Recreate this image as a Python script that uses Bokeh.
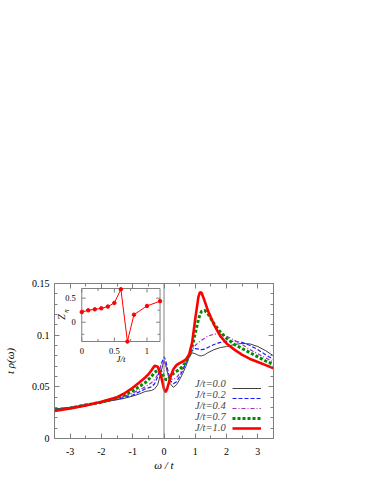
import math
from bokeh.plotting import figure
from bokeh.models import (Range1d, LinearAxis, FixedTicker, CustomJSTickFormatter,
                          Span, Legend, LegendItem)
from bokeh.core.properties import value
from bokeh.embed import file_html
from bokeh.resources import INLINE

# ---------------- data ----------------
omega = [-3.5, -3.0, -2.5, -2.0, -1.5, -1.25, -1.0, -0.8, -0.6, -0.5,
         -0.4, -0.3, -0.2, -0.1, 0.0, 0.05, 0.1, 0.2, 0.3, 0.4,
         0.5, 0.6, 0.7, 0.8, 0.9, 1.0, 1.1, 1.15, 1.2, 1.3,
         1.4, 1.6, 1.8, 2.0, 2.25, 2.5, 2.75, 3.0, 3.25, 3.5]

rho_j00 = [0.0285, 0.030, 0.0325, 0.035, 0.0375, 0.039, 0.041, 0.043, 0.0455, 0.046,
           0.0465, 0.048, 0.052, 0.064, 0.0755, 0.072, 0.065, 0.053, 0.0495, 0.052,
           0.057, 0.063, 0.070, 0.078, 0.083, 0.082, 0.0805, 0.080, 0.080, 0.081,
           0.083, 0.086, 0.088, 0.089, 0.091, 0.092, 0.0915, 0.089, 0.085, 0.080]

rho_j02 = [0.0285, 0.030, 0.033, 0.035, 0.038, 0.040, 0.042, 0.045, 0.048, 0.049,
           0.050, 0.053, 0.060, 0.071, 0.079, 0.076, 0.069, 0.056, 0.053, 0.055,
           0.060, 0.066, 0.073, 0.080, 0.085, 0.087, 0.0865, 0.086, 0.086, 0.0865,
           0.088, 0.091, 0.093, 0.094, 0.094, 0.093, 0.090, 0.086, 0.081, 0.0765]

rho_j04 = [0.028, 0.030, 0.033, 0.035, 0.039, 0.041, 0.044, 0.047, 0.050, 0.052,
           0.054, 0.057, 0.062, 0.070, 0.075, 0.071, 0.066, 0.058, 0.057, 0.059,
           0.063, 0.068, 0.074, 0.080, 0.086, 0.090, 0.093, 0.094, 0.095, 0.097,
           0.099, 0.101, 0.101, 0.099, 0.095, 0.091, 0.086, 0.082, 0.078, 0.074]

rho_j07 = [0.0275, 0.0295, 0.0325, 0.035, 0.0395, 0.042, 0.046, 0.050, 0.054, 0.057,
           0.060, 0.064, 0.066, 0.065, 0.060, 0.057, 0.057, 0.060, 0.063, 0.065,
           0.067, 0.070, 0.074, 0.080, 0.089, 0.102, 0.115, 0.120, 0.123, 0.124,
           0.121, 0.111, 0.103, 0.097, 0.091, 0.087, 0.083, 0.079, 0.075, 0.0715]

rho_j10 = [0.0266, 0.029, 0.032, 0.0355, 0.040, 0.044, 0.049, 0.054, 0.059, 0.062,
           0.066, 0.0705, 0.0695, 0.061, 0.048, 0.0448, 0.048, 0.059, 0.067, 0.071,
           0.073, 0.0745, 0.0765, 0.081, 0.093, 0.116, 0.137, 0.1415, 0.141, 0.133,
           0.124, 0.110, 0.099, 0.092, 0.086, 0.081, 0.077, 0.074, 0.071, 0.068]

series_labels = ["J/t=0.0", "J/t=0.2", "J/t=0.4", "J/t=0.7", "J/t=1.0"]

x_ticks = [-3, -2, -1, 0, 1, 2, 3]
y_ticks = [0, 0.05, 0.1, 0.15]

inset_j = [0.0, 0.1, 0.2, 0.3, 0.4, 0.5, 0.6, 0.7, 0.8, 1.0, 1.2]
inset_z = [0.21, 0.247, 0.268, 0.289, 0.325, 0.401, 0.684, -0.40, 0.156, 0.338, 0.437]
inset_x_ticks = [0, 0.5, 1]
inset_x_tick_labels = ["0", "0.5", "1"]
inset_y_ticks = [0, 0.5]
inset_y_tick_labels = ["0", "0.5"]
inset_x_minor = [0.25, 0.75]
inset_y_minor = [-0.25, 0.25]
inset_xlim = (0.0, 1.2)
inset_ylim = (-0.4, 0.7)

# ---------------- layout ----------------
W, H = 366, 476
BL, BR, BT, BB = 52, 93, 283, 38
FW, FH = W - BL - BR, H - BT - BB
SERIF = "Liberation Serif"
GRAY = "#808080"

p = figure(width=W, height=H, x_range=Range1d(-3.5, 3.5), y_range=Range1d(0, 0.15),
           output_backend="svg", toolbar_location=None,
           min_border_left=BL, min_border_right=BR, min_border_top=BT, min_border_bottom=BB)
p.xgrid.visible = False
p.ygrid.visible = False
p.outline_line_color = GRAY
p.background_fill_color = "white"
p.border_fill_color = "white"

x_minor = [-3.5 + 0.5 * k for k in range(15)]
y_minor = [0.01 * k for k in range(16)]
xfmt = CustomJSTickFormatter(code="return tick.toString();")
yfmt = CustomJSTickFormatter(code="var s = tick.toFixed(2); s = s.replace(/0+$/, ''); return s.replace(/\\.$/, '');")
blank = CustomJSTickFormatter(code="return '';")


def style_axis(ax):
    ax.axis_line_color = GRAY
    ax.major_tick_line_color = GRAY
    ax.minor_tick_line_color = GRAY
    ax.major_tick_in = 5
    ax.major_tick_out = 0
    ax.minor_tick_in = 3
    ax.minor_tick_out = 0
    ax.major_label_text_font = SERIF
    ax.major_label_text_font_size = "10px"
    ax.major_label_text_color = "black"
    ax.axis_label_text_font = SERIF
    ax.axis_label_text_font_size = "11px"
    ax.axis_label_text_font_style = "italic"
    ax.axis_label_text_color = "black"


xa = p.xaxis[0]
xa.ticker = FixedTicker(ticks=x_ticks, minor_ticks=x_minor)
xa.formatter = xfmt
xa.axis_label = "ω / t"
style_axis(xa)
xa.major_label_standoff = 9
xa.axis_label_standoff = 1

ya = p.yaxis[0]
ya.ticker = FixedTicker(ticks=y_ticks, minor_ticks=y_minor)
ya.formatter = yfmt
ya.axis_label = "t ρ(ω)"
style_axis(ya)
ya.major_label_standoff = 5
ya.axis_label_standoff = 13

top = LinearAxis(ticker=FixedTicker(ticks=x_ticks, minor_ticks=x_minor), formatter=blank)
style_axis(top)
p.add_layout(top, "above")
right = LinearAxis(ticker=FixedTicker(ticks=y_ticks, minor_ticks=y_minor), formatter=blank)
style_axis(right)
p.add_layout(right, "right")

p.add_layout(Span(location=0, dimension="height", line_color=GRAY, line_width=1))

r0 = p.line(omega, rho_j00, line_color="#404040", line_width=1)
r1 = p.line(omega, rho_j02, line_color="#1a1aff", line_width=1.2, line_dash="4 2")
r2 = p.line(omega, rho_j04, line_color="#a030c0", line_width=1.2, line_dash="4 2 1 2")
r3 = p.line(omega, rho_j07, line_color="#008a00", line_width=3, line_dash="3 2")
r4 = p.line(omega, rho_j10, line_color="#ff0000", line_width=2.6)
renderers = [r0, r1, r2, r3, r4]

common = dict(glyph_height=10, label_height=10, spacing=0, padding=0, margin=0,
              label_text_font=SERIF, label_text_font_size="10.5px",
              label_text_font_style="italic", border_line_color=None,
              background_fill_alpha=0)
# text column (labels on the left as in the original)
legend_text = Legend(items=[LegendItem(label=lab, renderers=[r]) for lab, r in
                            zip(series_labels, renderers)],
                     location=(141, 5), glyph_width=0, label_standoff=0, label_width=30,
                     **common)
# sample column (line samples on the right)
legend_keys = Legend(items=[LegendItem(label=" ", renderers=[r]) for r in renderers],
                     location=(178, 5), glyph_width=29, label_standoff=0, label_width=1,
                     **common)
p.add_layout(legend_text)
p.add_layout(legend_keys)

# ---------------- inset (drawn in own ranges) ----------------
in_l, in_r, in_t, in_b = 27.5, 106.5, 5.0, 58.0   # pixel box inside the frame
sx = (in_r - in_l) / (inset_xlim[1] - inset_xlim[0])
sy = (in_b - in_t) / (inset_ylim[1] - inset_ylim[0])
p.extra_x_ranges = {"ix": Range1d(inset_xlim[0] - in_l / sx, inset_xlim[1] + (FW - in_r) / sx)}
p.extra_y_ranges = {"iy": Range1d(inset_ylim[0] - (FH - in_b) / sy, inset_ylim[1] + in_t / sy)}
kw = dict(x_range_name="ix", y_range_name="iy")

p.quad(left=[inset_xlim[0]], right=[inset_xlim[1]], bottom=[inset_ylim[0]], top=[inset_ylim[1]],
       fill_color="white", line_color=GRAY, line_width=1, **kw)

tl_major, tl_minor = 4.0, 2.5
for ticks, tl in ((inset_x_ticks, tl_major), (inset_x_minor, tl_minor)):
    p.segment(x0=ticks, x1=ticks, y0=[inset_ylim[0]] * len(ticks),
              y1=[inset_ylim[0] + tl / sy] * len(ticks), line_color=GRAY, **kw)
    p.segment(x0=ticks, x1=ticks, y0=[inset_ylim[1]] * len(ticks),
              y1=[inset_ylim[1] - tl / sy] * len(ticks), line_color=GRAY, **kw)
for ticks, tl in ((inset_y_ticks, tl_major), (inset_y_minor, tl_minor)):
    p.segment(y0=ticks, y1=ticks, x0=[inset_xlim[0]] * len(ticks),
              x1=[inset_xlim[0] + tl / sx] * len(ticks), line_color=GRAY, **kw)
    p.segment(y0=ticks, y1=ticks, x0=[inset_xlim[1]] * len(ticks),
              x1=[inset_xlim[1] - tl / sx] * len(ticks), line_color=GRAY, **kw)

p.text(x=inset_x_ticks, y=[inset_ylim[0]] * len(inset_x_ticks), text=inset_x_tick_labels,
       y_offset=9, text_align="center", text_baseline="middle",
       text_font=value(SERIF), text_font_size="8.5px", text_color="black", **kw)
p.text(x=[inset_xlim[0]] * len(inset_y_ticks), y=inset_y_ticks, text=inset_y_tick_labels,
       x_offset=-6, text_align="right", text_baseline="middle",
       text_font=value(SERIF), text_font_size="8.5px", text_color="black", **kw)
p.text(x=[sum(inset_xlim) / 2], y=[inset_ylim[0]], text=["J/t"], y_offset=17,
       text_align="center", text_baseline="middle", text_font=value(SERIF),
       text_font_size="9px", text_font_style="italic", text_color="black", **kw)
ymid = sum(inset_ylim) / 2
p.text(x=[inset_xlim[0]], y=[ymid], text=["Z"], x_offset=-20, y_offset=2, angle=math.pi / 2,
       text_align="center", text_baseline="middle", text_font=value(SERIF),
       text_font_size="10px", text_font_style="italic", text_color="black", **kw)
p.text(x=[inset_xlim[0]], y=[ymid], text=["η"], x_offset=-16, y_offset=-4, angle=math.pi / 2,
       text_align="center", text_baseline="middle", text_font=value(SERIF),
       text_font_size="7px", text_font_style="italic", text_color="black", **kw)

p.line(inset_j, inset_z, line_color="#ff0000", line_width=1, **kw)
p.scatter(inset_j, inset_z, marker="circle", size=3.5, fill_color="#ff0000",
          line_color="#ff0000", **kw)

open("out.html", "w").write(file_html(p, INLINE))
